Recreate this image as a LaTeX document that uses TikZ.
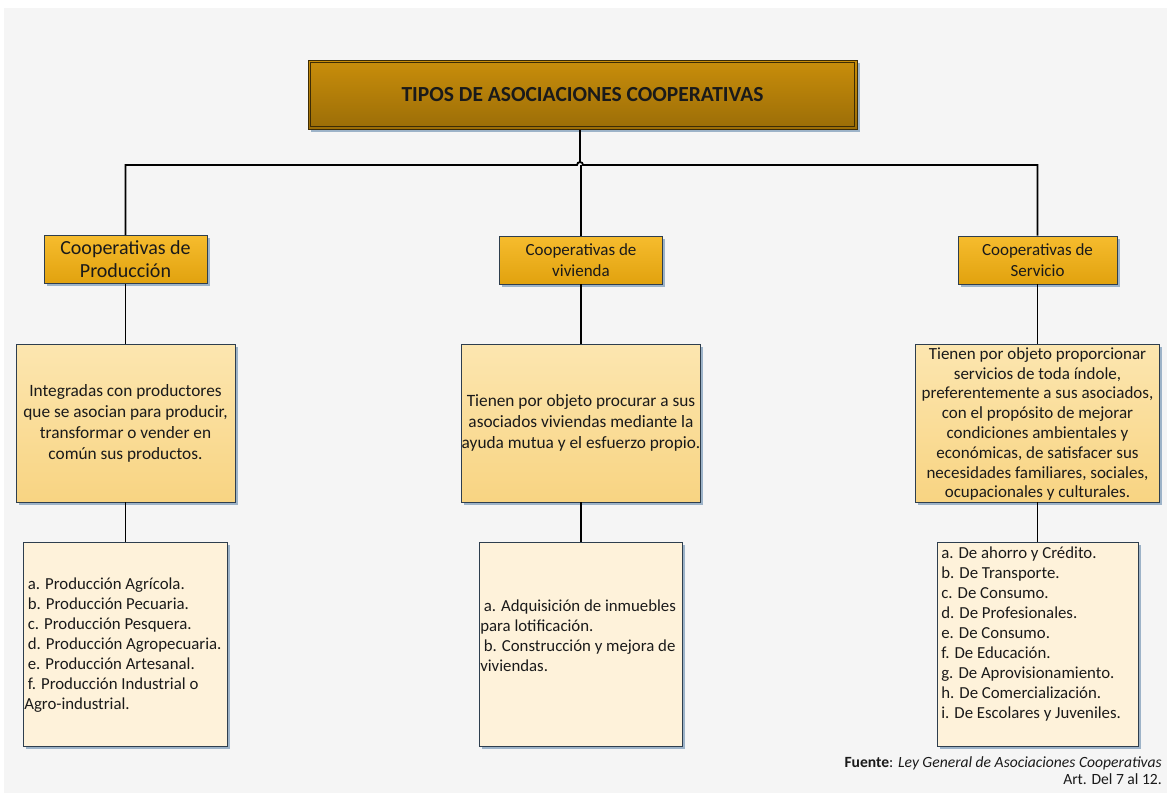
\documentclass[tikz,border=0pt]{standalone}
\usepackage{fontspec}
\setmainfont{Carlito}
\usetikzlibrary{shadows}
\definecolor{bgc}{HTML}{F5F5F5}
\definecolor{titletop}{HTML}{C98E0B}
\definecolor{titlebot}{HTML}{9B6D07}
\definecolor{titleline}{HTML}{3D2C05}
\definecolor{ltop}{HTML}{F6BC2E}
\definecolor{lbot}{HTML}{E1A20E}
\definecolor{boxline}{HTML}{2E3E4E}
\definecolor{dtop}{HTML}{FCE6B0}
\definecolor{dbot}{HTML}{F8D482}
\definecolor{listfill}{HTML}{FEF2DA}
\definecolor{shadowc}{HTML}{9DB3C8}
\definecolor{txt}{HTML}{1A1A1A}
\tikzset{
  boxshadow/.style={drop shadow={shadow xshift=2.5pt, shadow yshift=-2.5pt, fill=shadowc, opacity=1}},
  titlebox/.style={draw=titleline, line width=1pt, top color=titletop, bottom color=titlebot,
    minimum width=549pt, minimum height=69pt, inner sep=0pt, boxshadow,
    font=\fontsize{21.5}{26}\selectfont\bfseries, text=txt},
  levelbox/.style={draw=boxline, line width=0.8pt, top color=ltop, bottom color=lbot,
    minimum height=48pt, inner sep=0pt, boxshadow, align=center, text=txt},
  descbox/.style={draw=boxline, line width=0.8pt, top color=dtop, bottom color=dbot,
    minimum height=158pt, inner sep=0pt, boxshadow, align=center, text=txt,
    font=\fontsize{17.3}{21}\selectfont},
  listbox/.style={draw=boxline, line width=0.8pt, fill=listfill,
    minimum height=204pt, inner sep=0pt, boxshadow},
  listtext/.style={anchor=west, inner sep=1pt, align=left, text=txt,
    font=\fontsize{16.8}{20}\selectfont},
  conn/.style={draw=black, line width=1.8pt}
}
\newcommand{\itm}{\hspace*{3.5pt}}
\begin{document}
\begin{tikzpicture}[x=1pt,y=-1pt]
\useasboundingbox (0,0) rectangle (1167,793);
\fill[white] (0,0) rectangle (1167,793);
\fill[bgc] (4,8) rectangle (1167,793);

% title
\node[titlebox] (title) at (582.5,94.5) {TIPOS DE ASOCIACIONES COOPERATIVAS};
\draw[titleline, line width=0.8pt] ([shift={(3,3)}]title.north west) rectangle ([shift={(-3,-3)}]title.south east);

% level 2
\node[levelbox, minimum width=163pt, font=\fontsize{20}{23}\selectfont] (prod) at (125.5,259.5) {Cooperativas de\\Producción};
\node[levelbox, minimum width=163pt, font=\fontsize{17}{20.5}\selectfont] (viv) at (581,260) {Cooperativas de\\vivienda};
\node[levelbox, minimum width=159pt, font=\fontsize{17}{20.5}\selectfont] (serv) at (1037.5,260) {Cooperativas de\\Servicio};

% level 3
\node[descbox, minimum width=219pt] (prodd) at (125.5,423) {Integradas con productores\\que se asocian para producir,\\transformar o vender en\\común sus productos.};
\node[descbox, minimum width=239pt] (vivd) at (581,423) {Tienen por objeto procurar a sus\\asociados viviendas mediante la\\ayuda mutua y el esfuerzo propio.};
\node[descbox, minimum width=244pt] (servd) at (1037.5,423) {};
\node[inner sep=0pt, align=center, text=txt, font=\fontsize{17}{19.8}\selectfont] (servdt) at ([yshift=-1pt]servd.center) {Tienen por objeto proporcionar\\servicios de toda índole,\\preferentemente a sus asociados,\\con el propósito de mejorar\\condiciones ambientales y\\económicas, de satisfacer sus\\necesidades familiares, sociales,\\ocupacionales y culturales.};

% level 4
\node[listbox, minimum width=204pt] (prodl) at (125.5,644) {};
\node[listbox, minimum width=203pt] (vivl) at (581,644.5) {};
\node[listbox, minimum width=201pt] (servl) at (1037.5,644) {};
\node[listtext] (prodt) at ([yshift=-1pt]prodl.west) {\itm a. Producción Agrícola.\\\itm b. Producción Pecuaria.\\\itm c. Producción Pesquera.\\\itm d. Producción Agropecuaria.\\\itm e. Producción Artesanal.\\\itm f. Producción Industrial o\\Agro-industrial.};
\node[listtext] (vivt) at ([yshift=8.5pt]vivl.west) {\itm a. Adquisición de inmuebles\\para lotificación.\\\itm b. Construcción y mejora de\\viviendas.};
\node[listtext] (servt) at ([yshift=10pt]servl.west) {\itm a. De ahorro y Crédito.\\\itm b. De Transporte.\\\itm c. De Consumo.\\\itm d. De Profesionales.\\\itm e. De Consumo.\\\itm f. De Educación.\\\itm g. De Aprovisionamiento.\\\itm h. De Comercialización.\\\itm i. De Escolares y Juveniles.};

% connectors
\coordinate (bus) at (580,165);
\draw[conn] (title.south -| bus) -- ([yshift=3pt]bus);
\draw[conn] (prod.north) -- (prod.north |- bus) -- ([xshift=-3pt]bus) arc[start angle=180, end angle=0, radius=3pt] -- (serv.north |- bus) -- (serv.north);
\draw[conn] (viv.north) -- (viv.north |- bus);
\draw[conn] (prod.south) -- (prodd.north);
\draw[conn] (viv.south) -- (vivd.north);
\draw[conn] (serv.south) -- (servd.north);
\draw[conn] (prodd.south) -- (prodl.north);
\draw[conn] (vivd.south) -- (vivl.north);
\draw[conn] (servd.south) -- (servl.north);

% footer
\node[anchor=east, inner sep=0pt, font=\fontsize{15.6}{17}\selectfont, text=txt] (fuente) at (1162,763) {\textbf{Fuente}: \textit{Ley General de Asociaciones Cooperativas}};
\node[anchor=east, inner sep=0pt, font=\fontsize{15.6}{17}\selectfont, text=txt] (art) at (1162,779) {Art. Del 7 al 12.};
\end{tikzpicture}
\end{document}
